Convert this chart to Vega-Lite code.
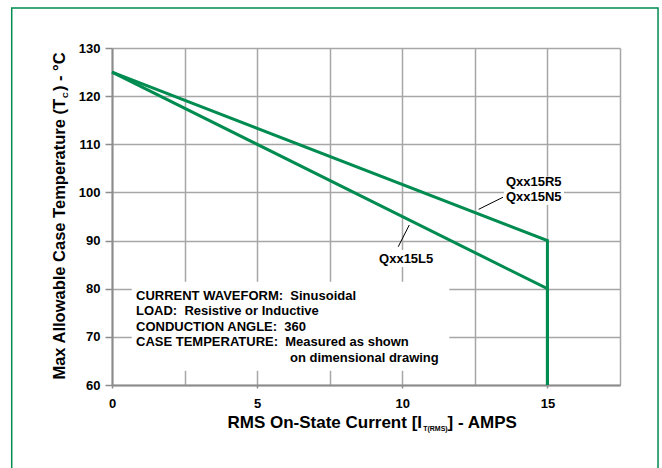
{
  "$schema": "https://vega.github.io/schema/vega-lite/v6.json",
  "width": 508,
  "height": 337,
  "autosize": {"type": "none"},
  "padding": {"left": 112, "top": 48, "right": 42, "bottom": 83},
  "background": "white",
  "config": {
    "view": {"stroke": null},
    "font": "Liberation Sans",
    "text": {"font": "Liberation Sans", "fontWeight": "bold", "color": "black"}
  },
  "datasets": {
    "curves": [
      {"series": "Qxx15R5/N5", "i": 0, "x": 0, "y": 125},
      {"series": "Qxx15R5/N5", "i": 1, "x": 15, "y": 90},
      {"series": "Qxx15R5/N5", "i": 2, "x": 15, "y": 60},
      {"series": "Qxx15L5", "i": 0, "x": 0, "y": 125},
      {"series": "Qxx15L5", "i": 1, "x": 15, "y": 80},
      {"series": "Qxx15L5", "i": 2, "x": 15, "y": 60}
    ],
    "frame": [{"x": -3.455, "x2": 18.81, "y": 138.31, "y2": 40}],
    "masks": [
      {"x": 0.68, "x2": 11.62, "y": 81.45, "y2": 62.97},
      {"x": 13.5, "x2": 15.57, "y": 103.27, "y2": 97.39},
      {"x": 9.2, "x2": 11.02, "y": 88.04, "y2": 84.51}
    ],
    "leaders": [
      {"x": 12.63, "y": 96.49, "x2": 13.47, "y2": 99.0},
      {"x": 9.86, "y": 88.72, "x2": 10.24, "y2": 93.23}
    ],
    "notes": [
      {"x": 0.827, "y": 78.55, "text": "CURRENT WAVEFORM:\u00a0 Sinusoidal"},
      {"x": 0.827, "y": 75.31, "text": "LOAD:\u00a0 Resistive or Inductive"},
      {"x": 0.827, "y": 72.11, "text": "CONDUCTION ANGLE:\u00a0 360"},
      {"x": 0.827, "y": 68.87, "text": "CASE TEMPERATURE:\u00a0 Measured as shown"},
      {"x": 6.13, "y": 65.6, "text": "on dimensional drawing"},
      {"x": 13.57, "y": 102.1, "text": "Qxx15R5"},
      {"x": 13.57, "y": 99.11, "text": "Qxx15N5"},
      {"x": 9.2, "y": 86.11, "text": "Qxx15L5"}
    ],
    "titles": [
      {"part": "x-head", "x": 10.68, "y": 51.0, "text": "RMS On-State Current [I"},
      {"part": "x-sub", "x": 10.72, "y": 50.4, "text": "T(RMS)"},
      {"part": "x-tail", "x": 11.56, "y": 51.0, "text": "] - AMPS"},
      {"part": "y-head", "x": -1.62, "y": 119.41, "text": "Max Allowable Case Temperature (T"},
      {"part": "y-sub", "x": -1.53, "y": 119.62, "text": "C"},
      {"part": "y-tail", "x": -1.62, "y": 121.05, "text": ") - °C"}
    ]
  },
  "encoding": {
    "x": {
      "field": "x",
      "type": "quantitative",
      "title": null,
      "scale": {"domain": [0, 17.5], "nice": false, "zero": false},
      "axis": {
        "values": [0, 2.5, 5, 7.5, 10, 12.5, 15, 17.5],
        "labelExpr": "datum.value % 5 === 0 && datum.value < 17 ? '' + datum.value : ''",
        "tickOpacity": {"condition": {"test": "datum.value % 5 === 0 && datum.value < 17", "value": 1}, "value": 0},
        "tickSize": 3,
        "tickWidth": 1.5,
        "tickColor": "#8c8c8c",
        "labelPadding": 9,
        "labelFont": "Liberation Sans",
        "labelFontSize": 13,
        "labelFontWeight": "bold",
        "labelColor": "black",
        "labelFlush": false,
        "labelOverlap": false,
        "grid": true,
        "gridColor": "#a6a6a6",
        "gridWidth": 1.5,
        "domainColor": "#8c8c8c",
        "domainWidth": 2
      }
    },
    "y": {
      "field": "y",
      "type": "quantitative",
      "title": null,
      "scale": {"domain": [60, 130], "nice": false, "zero": false},
      "axis": {
        "values": [60, 70, 80, 90, 100, 110, 120, 130],
        "tickSize": 7,
        "tickWidth": 1.5,
        "tickColor": "#8c8c8c",
        "labelPadding": 5,
        "labelFont": "Liberation Sans",
        "labelFontSize": 13,
        "labelFontWeight": "bold",
        "labelColor": "black",
        "labelFlush": false,
        "labelOverlap": false,
        "grid": true,
        "gridColor": "#a6a6a6",
        "gridWidth": 1.5,
        "domainColor": "#8c8c8c",
        "domainWidth": 2
      }
    }
  },
  "layer": [
    {
      "data": {"name": "frame"},
      "mark": {"type": "rect", "filled": false, "color": "#008c50", "strokeWidth": 1.5, "clip": false},
      "encoding": {
        "x2": {"field": "x2", "title": null},
        "y2": {"field": "y2", "title": null}
      }
    },
    {
      "data": {"name": "masks"},
      "mark": {"type": "rect", "color": "white", "opacity": 1, "clip": false},
      "encoding": {
        "x2": {"field": "x2", "title": null},
        "y2": {"field": "y2", "title": null}
      }
    },
    {
      "data": {"name": "curves"},
      "mark": {"type": "line", "color": "#008c50", "strokeWidth": 3, "clip": false},
      "encoding": {
        "detail": {"field": "series"},
        "order": {"field": "i"}
      }
    },
    {
      "data": {"name": "leaders"},
      "mark": {"type": "rule", "color": "black", "strokeWidth": 1, "clip": false},
      "encoding": {
        "x2": {"field": "x2", "title": null},
        "y2": {"field": "y2", "title": null}
      }
    },
    {
      "data": {"name": "notes"},
      "mark": {"type": "text", "align": "left", "baseline": "middle", "fontSize": 13, "clip": false},
      "encoding": {"text": {"field": "text"}}
    },
    {
      "data": {"name": "titles"},
      "transform": [{"filter": "datum.part === 'x-head'"}],
      "mark": {"type": "text", "align": "right", "baseline": "alphabetic", "fontSize": 17, "clip": false},
      "encoding": {"text": {"field": "text"}}
    },
    {
      "data": {"name": "titles"},
      "transform": [{"filter": "datum.part === 'x-tail'"}],
      "mark": {"type": "text", "align": "left", "baseline": "alphabetic", "fontSize": 17, "clip": false},
      "encoding": {"text": {"field": "text"}}
    },
    {
      "data": {"name": "titles"},
      "transform": [{"filter": "datum.part === 'x-sub'"}],
      "mark": {"type": "text", "align": "left", "baseline": "alphabetic", "fontSize": 7, "clip": false},
      "encoding": {"text": {"field": "text"}}
    },
    {
      "data": {"name": "titles"},
      "transform": [{"filter": "datum.part === 'y-head'"}],
      "mark": {"type": "text", "align": "right", "baseline": "alphabetic", "angle": 270, "fontSize": 16.5, "clip": false},
      "encoding": {"text": {"field": "text"}}
    },
    {
      "data": {"name": "titles"},
      "transform": [{"filter": "datum.part === 'y-tail'"}],
      "mark": {"type": "text", "align": "left", "baseline": "alphabetic", "angle": 270, "fontSize": 16.5, "clip": false},
      "encoding": {"text": {"field": "text"}}
    },
    {
      "data": {"name": "titles"},
      "transform": [{"filter": "datum.part === 'y-sub'"}],
      "mark": {"type": "text", "align": "left", "baseline": "alphabetic", "angle": 270, "fontSize": 8, "clip": false},
      "encoding": {"text": {"field": "text"}}
    }
  ]
}
